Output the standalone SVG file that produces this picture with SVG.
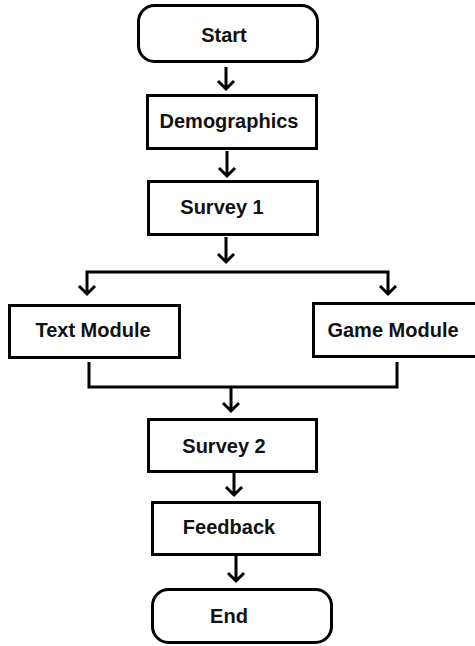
<svg xmlns="http://www.w3.org/2000/svg" width="475" height="646" viewBox="0 0 475 646">
<defs>
<style>
.box{fill:#fff;stroke:#000;stroke-width:3}
.lbl{font-family:"Liberation Sans",Arial,sans-serif;font-weight:bold;font-size:20px;fill:#111;text-anchor:middle}
.c{fill:none;stroke:#000;stroke-width:3;stroke-linejoin:miter}
</style>
</defs>
<rect width="475" height="646" fill="#fff"/>
<g id="connectors">
<path class="c" d="M226 67V89M218 81l8 8l8-8"/>
<path class="c" d="M227 151V176M219 168l8 8l8-8"/>
<path class="c" d="M226 237V262M218 254l8 8l8-8"/>
<path class="c" d="M87 294V272H388V294M79 286l8 8l8-8M380 286l8 8l8-8"/>
<path class="c" d="M89 362V387H397V362M231 387V411M223 403l8 8l8-8"/>
<path class="c" d="M234 473V495M226 487l8 8l8-8"/>
<path class="c" d="M236 556V581M228 573l8 8l8-8"/>
</g>
<g id="start"><rect class="box" x="138.5" y="5.5" width="179" height="56" rx="16"/><text class="lbl" x="224" y="42">Start</text></g>
<g id="demographics"><rect class="box" x="147.5" y="95.5" width="169" height="53"/><text class="lbl" x="229" y="128">Demographics</text></g>
<g id="survey1"><rect class="box" x="148.5" y="181.5" width="169" height="53"/><text class="lbl" x="222" y="214">Survey 1</text></g>
<g id="textmodule"><rect class="box" x="9.5" y="305.5" width="170" height="52"/><text class="lbl" x="93" y="337">Text Module</text></g>
<g id="gamemodule"><rect class="box" x="313.5" y="303.5" width="166" height="53"/><text class="lbl" x="393" y="337">Game Module</text></g>
<g id="survey2"><rect class="box" x="148.5" y="419.5" width="168" height="52"/><text class="lbl" x="224" y="453">Survey 2</text></g>
<g id="feedback"><rect class="box" x="152.5" y="502.5" width="167" height="52"/><text class="lbl" x="229" y="534">Feedback</text></g>
<g id="end"><rect class="box" x="152.5" y="589.5" width="179" height="53" rx="16"/><text class="lbl" x="229" y="623">End</text></g>
</svg>
